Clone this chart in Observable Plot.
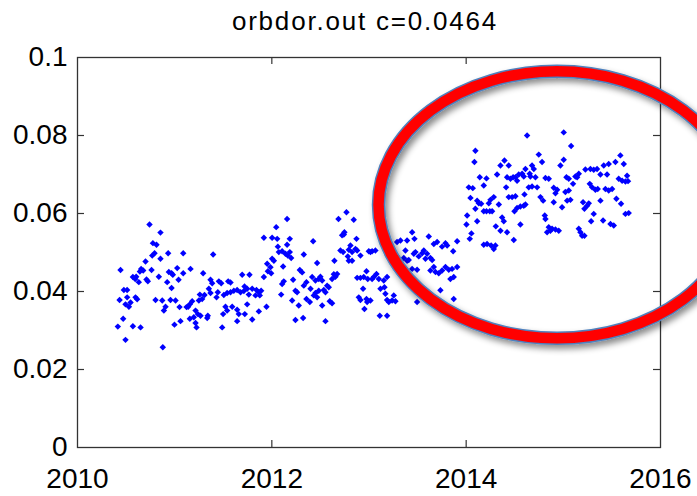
<!DOCTYPE html>
<html><head><meta charset="utf-8">
<script src="https://cdn.jsdelivr.net/npm/d3@7"></script>
<script src="https://cdn.jsdelivr.net/npm/@observablehq/plot@0.6"></script>
<style>
html,body{margin:0;padding:0;background:#fff;overflow:hidden;}
</style></head><body><div id="chart"></div>
<script>
const title = "orbdor.out c=0.0464";
const xTicks = [2010, 2012, 2014, 2016];
const yTicks = [0, 0.02, 0.04, 0.06, 0.08, 0.1];
const innerXTicks = [2012, 2014];
const innerYTicks = [0.02, 0.04, 0.06, 0.08];

// [year, value] pairs
const early = [
[2010.741,.0572],[2010.854,.0551],[2010.776,.0524],[2010.813,.0520],[2010.769,.0492],[2010.793,.0498],[2010.933,.0498],[2010.854,.0484],[2010.700,.0477],[2011.088,.0498],[2011.396,.0495],[2010.443,.0455],[2010.655,.0458],[2010.676,.0454],[2010.642,.0451],[2010.570,.0437],[2010.604,.0438],[2010.594,.0432],[2010.762,.0455],[2010.710,.0431],[2010.724,.0426],[2010.631,.0424],[2010.940,.0450],[2010.968,.0447],[2010.981,.0443],[2011.026,.0460],[2011.088,.0447],[2011.040,.0430],[2011.163,.0458],[2010.837,.0438],[2010.923,.0424],[2010.968,.0409],[2011.293,.0447],[2011.369,.0430],[2011.386,.0421],[2011.455,.0426],[2011.479,.0421],[2011.551,.0426],[2011.575,.0423],[2011.695,.0443],[2011.770,.0443],[2010.477,.0404],[2010.511,.0404],[2010.433,.0378],[2010.511,.0385],[2010.597,.0385],[2010.614,.0380],[2010.546,.0372],[2010.494,.0367],[2010.529,.0361],[2010.803,.0378],[2010.872,.0377],[2010.957,.0378],[2011.009,.0377],[2010.906,.0361],[2010.889,.0351],[2011.050,.0360],[2011.122,.0360],[2011.156,.0367],[2011.180,.0375],[2011.139,.0361],[2011.259,.0392],[2011.307,.0391],[2011.249,.0377],[2011.283,.0381],[2011.352,.0407],[2011.369,.0396],[2011.431,.0385],[2011.444,.0398],[2011.506,.0391],[2011.540,.0396],[2011.575,.0398],[2011.609,.0402],[2011.643,.0404],[2011.678,.0398],[2011.712,.0401],[2011.719,.0413],[2011.746,.0407],[2011.763,.0392],[2011.798,.0407],[2011.842,.0404],[2011.866,.0398],[2011.890,.0402],[2011.876,.0390],[2011.832,.0390],[2011.945,.0361],[2011.866,.0349],[2011.215,.0351],[2011.239,.0342],[2011.197,.0334],[2011.266,.0338],[2011.335,.0332],[2011.341,.0338],[2011.523,.0361],[2011.540,.0351],[2011.499,.0342],[2011.592,.0361],[2011.643,.0353],[2011.660,.0342],[2011.722,.0342],[2011.746,.0367],[2011.060,.0324],[2010.998,.0315],[2011.156,.0330],[2011.215,.0319],[2011.225,.0308],[2011.489,.0308],[2011.643,.0324],[2011.798,.0328],[2010.470,.0330],[2010.415,.0310],[2010.570,.0311],[2010.649,.0308],[2010.494,.0276],[2010.878,.0257],[2011.918,.0538],[2012.003,.0538],[2012.055,.0535],[2012.045,.0565],[2012.062,.0515],[2012.072,.0501],[2011.952,.0471],[2011.986,.0462],[2012.003,.0484],[2012.021,.0479],[2011.959,.0452],[2011.993,.0447],[2011.918,.0437]
];
const middle = [
[2012.157,.0586],[2012.157,.0520],[2012.185,.0535],[2012.106,.0503],[2012.140,.0497],[2012.164,.0492],[2012.199,.0486],[2012.185,.0501],[2012.116,.0464],[2012.106,.0419],[2012.123,.0426],[2012.219,.0430],[2012.096,.0392],[2012.209,.0377],[2012.243,.0402],[2012.260,.0398],[2012.288,.0455],[2012.312,.0449],[2012.329,.0495],[2012.425,.0529],[2012.277,.0364],[2012.243,.0327],[2012.322,.0332],[2012.329,.0415],[2012.356,.0424],[2012.398,.0407],[2012.415,.0437],[2012.449,.0428],[2012.483,.0432],[2012.518,.0428],[2012.500,.0438],[2012.466,.0473],[2012.356,.0381],[2012.391,.0373],[2012.432,.0390],[2012.466,.0385],[2012.449,.0396],[2012.483,.0402],[2012.535,.0404],[2012.552,.0398],[2012.569,.0415],[2012.586,.0411],[2012.518,.0364],[2012.596,.0375],[2012.620,.0370],[2012.552,.0324],[2012.620,.0432],[2012.655,.0438],[2012.672,.0445],[2012.638,.0444],[2012.644,.0479],[2012.686,.0586],[2012.768,.0603],[2012.843,.0584],[2012.723,.0544],[2012.747,.0552],[2012.741,.0546],[2012.706,.0505],[2012.734,.0501],[2012.792,.0507],[2012.809,.0518],[2012.826,.0501],[2012.861,.0509],[2012.878,.0505],[2012.782,.0490],[2012.792,.0479],[2012.826,.0479],[2012.912,.0492],[2012.871,.0535],[2012.998,.0503],[2013.032,.0503],[2013.066,.0505],[2013.015,.0501],[2012.878,.0435],[2012.912,.0435],[2012.946,.0437],[2012.974,.0452],[2012.987,.0432],[2013.049,.0437],[2013.032,.0432],[2013.077,.0445],[2013.101,.0432],[2012.895,.0385],[2012.912,.0378],[2012.974,.0381],[2012.981,.0373],[2013.015,.0377],[2012.939,.0407],[2012.953,.0355],[2013.118,.0407],[2013.159,.0411],[2013.169,.0394],[2013.186,.0378],[2013.204,.0373],[2013.238,.0377],[2013.255,.0390],[2013.272,.0375],[2013.152,.0428],[2013.186,.0437],[2013.111,.0338],[2013.186,.0338],[2013.289,.0527],[2013.324,.0531],[2013.392,.0531],[2013.444,.0552],[2013.468,.0535],[2013.615,.0541],[2013.375,.0505],[2013.358,.0486],[2013.392,.0479],[2013.409,.0481],[2013.461,.0497],[2013.478,.0501],[2013.512,.0490],[2013.547,.0498],[2013.564,.0505],[2013.598,.0497],[2013.581,.0484],[2013.495,.0456],[2013.444,.0458],[2013.667,.0522],[2013.701,.0527],[2013.752,.0515],[2013.787,.0524],[2013.804,.0518],[2013.866,.0503],[2013.907,.0529],[2013.632,.0486],[2013.650,.0481],[2013.667,.0463],[2013.632,.0454],[2013.684,.0450],[2013.718,.0447],[2013.752,.0454],[2013.787,.0463],[2013.821,.0456],[2013.855,.0458],[2013.907,.0463],[2013.838,.0432],[2013.872,.0437],[2013.735,.0403],[2013.872,.0381],[2013.495,.0373],[2013.324,.0445],[2013.358,.0438]
];
const late = [
[2014.095,.0761],[2014.085,.0732],[2014.140,.0693],[2014.209,.0690],[2014.027,.0667],[2014.068,.0665],[2014.181,.0672],[2014.044,.0640],[2014.113,.0633],[2014.130,.0626],[2014.154,.0625],[2014.095,.0612],[2014.181,.0606],[2014.209,.0606],[2014.243,.0606],[2014.267,.0606],[2014.233,.0626],[2014.250,.0635],[2014.284,.0642],[2014.336,.0623],[2014.318,.0700],[2014.010,.0595],[2014.113,.0580],[2014.003,.0572],[2014.054,.0549],[2014.037,.0535],[2014.181,.0520],[2014.215,.0522],[2014.257,.0518],[2014.284,.0509],[2014.301,.0518],[2014.305,.0567],[2014.353,.0556],[2014.421,.0552],[2014.490,.0532],[2014.370,.0590],[2014.387,.0580],[2014.353,.0723],[2014.394,.0736],[2014.438,.0723],[2014.421,.0693],[2014.456,.0689],[2014.483,.0693],[2014.411,.0667],[2014.438,.0642],[2014.473,.0642],[2014.507,.0644],[2014.507,.0693],[2014.524,.0684],[2014.541,.0700],[2014.576,.0702],[2014.593,.0695],[2014.497,.0606],[2014.524,.0614],[2014.558,.0618],[2014.593,.0620],[2014.610,.0623],[2014.600,.0649],[2014.558,.0572],[2014.627,.0800],[2014.610,.0714],[2014.654,.0702],[2014.678,.0723],[2014.696,.0714],[2014.661,.0695],[2014.713,.0693],[2014.644,.0667],[2014.678,.0669],[2014.730,.0667],[2014.747,.0751],[2014.781,.0732],[2014.764,.0642],[2014.792,.0633],[2014.809,.0595],[2014.816,.0586],[2014.833,.0552],[2014.867,.0556],[2014.884,.0561],[2014.919,.0559],[2014.953,.0556],[2014.850,.0565],[2014.816,.0691],[2014.850,.0689],[2014.901,.0666],[2014.936,.0661],[2014.919,.0652],[2014.901,.0629],[2014.987,.0616],[2014.970,.0723],[2015.004,.0738],[2015.004,.0808],[2015.080,.0773],[2015.032,.0693],[2015.056,.0689],[2015.021,.0655],[2015.056,.0659],[2015.073,.0635],[2015.039,.0633],[2015.100,.0676],[2015.124,.0695],[2015.159,.0702],[2015.142,.0693],[2015.159,.0561],[2015.176,.0552],[2015.193,.0543],[2015.217,.0543],[2015.227,.0713],[2015.279,.0714],[2015.313,.0712],[2015.203,.0629],[2015.245,.0620],[2015.262,.0626],[2015.217,.0612],[2015.272,.0676],[2015.296,.0667],[2015.313,.0599],[2015.286,.0580],[2015.330,.0661],[2015.354,.0663],[2015.382,.0633],[2015.409,.0582],[2015.347,.0714],[2015.416,.0723],[2015.467,.0727],[2015.536,.0732],[2015.587,.0749],[2015.622,.0727],[2015.382,.0700],[2015.450,.0700],[2015.433,.0663],[2015.467,.0659],[2015.502,.0663],[2015.485,.0573],[2015.519,.0569],[2015.546,.0638],[2015.594,.0625],[2015.570,.0689],[2015.605,.0684],[2015.639,.0682],[2015.656,.0697],[2015.666,.0683],[2015.639,.0599],[2015.673,.0601]
];

// highlight ellipse annotation (data coordinates)
const ellipseCenter = [2014.94, 0.0621];
const ellipseRadii = [1.837, 0.03423];

const points = [...early, ...middle, ...late].map(([year, value]) => ({year, value}));

const W = 697, H = 496;
const mL = 77, mR = 37, mT = 57, mB = 49;
const fw = W - mL - mR, fh = H - mT - mB, tk = 7;

const plot = Plot.plot({
  width: W, height: H,
  marginLeft: mL, marginRight: mR, marginTop: mT, marginBottom: mB,
  style: {fontFamily: "'Liberation Sans', Arial, sans-serif", fontSize: "28px", color: "#000", background: "#fff", overflow: "hidden"},
  x: {domain: [2010, 2016], ticks: xTicks, tickSize: 0, tickPadding: 21, tickFormat: d => String(d), label: null},
  y: {domain: [0, 0.1], ticks: yTicks, tickSize: 0, tickPadding: 10, tickFormat: d => d === 0 ? "0" : String(+d.toFixed(2)), label: null},
  marks: [
    Plot.dot(points, {x: "year", y: "value", symbol: "diamond2", r: 2.9, fill: "#0000ff", stroke: "none"}),
    Plot.ruleX(innerXTicks, {stroke: "#333", strokeWidth: 1.2, insetTop: fh - tk}),
    Plot.ruleX(innerXTicks, {stroke: "#333", strokeWidth: 1.2, insetBottom: fh - tk}),
    Plot.ruleY(innerYTicks, {stroke: "#333", strokeWidth: 1.2, insetRight: fw - tk}),
    Plot.ruleY(innerYTicks, {stroke: "#333", strokeWidth: 1.2, insetLeft: fw - tk}),
    Plot.frame({stroke: "#333", strokeWidth: 1.3}),
    Plot.text([title], {frameAnchor: "top", dy: -36, dx: -4, fontSize: 26, lineAnchor: "middle", fill: "#000", className: "ttl"})
  ]
});

const sx = plot.scale("x"), sy = plot.scale("y");
const cx = sx.apply(ellipseCenter[0]), cy = sy.apply(ellipseCenter[1]);
const rx = sx.apply(ellipseCenter[0] + ellipseRadii[0]) - cx;
const ry = cy - sy.apply(ellipseCenter[1] + ellipseRadii[1]);
const svg = d3.select(plot);
svg.selectAll(".ttl text").attr("letter-spacing", "1.8px");
const defs = svg.append("defs");
const f = defs.append("filter").attr("id", "shadow").attr("x", "-20%").attr("y", "-20%").attr("width", "140%").attr("height", "140%");
f.append("feDropShadow").attr("dx", 3).attr("dy", 4).attr("stdDeviation", 3).attr("flood-color", "#000").attr("flood-opacity", 0.45);
const g = svg.append("g").attr("filter", "url(#shadow)");
g.append("ellipse").attr("cx", cx).attr("cy", cy).attr("rx", rx).attr("ry", ry)
  .attr("fill", "none").attr("stroke", "#4f81bd").attr("stroke-width", 13.5);
g.append("ellipse").attr("cx", cx).attr("cy", cy).attr("rx", rx).attr("ry", ry)
  .attr("fill", "none").attr("stroke", "#ff0000").attr("stroke-width", 10.5);

document.getElementById("chart").append(plot);
</script></body></html>
